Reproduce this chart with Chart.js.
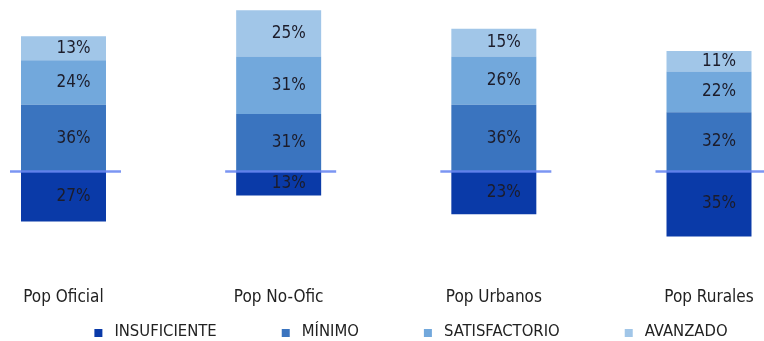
<!DOCTYPE html>
<html>
<head>
<meta charset="utf-8">
<script src="https://cdn.jsdelivr.net/npm/chart.js@4/dist/chart.umd.min.js"></script>
<style>
  html, body { margin: 0; padding: 0; background: #fff; }
  #wrap { width: 764px; height: 341px; }
</style>
</head>
<body>
<div id="wrap"><canvas id="chart"></canvas></div>
<script>
const categories = ['Pop Oficial', 'Pop No-Ofic', 'Pop Urbanos', 'Pop Rurales'];
// insuficiente is drawn below the zero line
const insuficiente = [-27, -13, -23, -35];
const minimo = [36, 31, 36, 32];
const satisfactorio = [24, 31, 26, 22];
const avanzado = [13, 25, 15, 11];

const FONT = "'DejaVu Sans Condensed', 'DejaVu Sans', sans-serif";

// labels inside each segment
const segmentLabels = {
  id: 'segmentLabels',
  afterDatasetsDraw(chart) {
    const ctx = chart.ctx;
    ctx.save();
    ctx.font = '17px ' + FONT;
    ctx.fillStyle = '#1c1c2a';
    ctx.textAlign = 'center';
    ctx.textBaseline = 'middle';
    chart.data.datasets.forEach(function(ds, i) {
      const meta = chart.getDatasetMeta(i);
      meta.data.forEach(function(bar, j) {
        const v = Math.abs(ds.data[j]);
        ctx.fillText(v + '%', bar.x + 10, (bar.y + bar.base) / 2);
      });
    });
    ctx.restore();
  }
};

// short zero line across each bar
const zeroLines = {
  id: 'zeroLines',
  afterDatasetsDraw(chart) {
    const ctx = chart.ctx;
    const y = chart.scales.y.getPixelForValue(0);
    const meta = chart.getDatasetMeta(0);
    ctx.save();
    ctx.strokeStyle = 'rgba(100,130,240,0.85)';
    ctx.lineWidth = 2.5;
    meta.data.forEach(function(bar) {
      ctx.beginPath();
      ctx.moveTo(bar.x - bar.width / 2 - 11, y);
      ctx.lineTo(bar.x + bar.width / 2 + 15, y);
      ctx.stroke();
    });
    ctx.restore();
  }
};

// legend row at the bottom, built from the datasets
const bottomLegend = {
  id: 'bottomLegend',
  afterDraw(chart) {
    const ctx = chart.ctx;
    const box = 8, boxGap = 12, itemGap = 65;
    const centerX = 411, y = 332;
    ctx.save();
    ctx.font = '16.5px ' + FONT;
    ctx.textBaseline = 'middle';
    ctx.textAlign = 'left';
    const items = chart.data.datasets.map(function(ds) {
      return { text: ds.label, color: ds.backgroundColor, w: box + boxGap + ctx.measureText(ds.label).width };
    });
    let total = items.reduce(function(s, it) { return s + it.w; }, 0) + itemGap * (items.length - 1);
    let x = centerX - total / 2;
    items.forEach(function(it) {
      ctx.fillStyle = it.color;
      ctx.fillRect(x, y - box / 2 + 1, box, box);
      ctx.fillStyle = '#222';
      ctx.fillText(it.text, x + box + boxGap, y);
      x += it.w + itemGap;
    });
    ctx.restore();
  }
};

new Chart(document.getElementById('chart'), {
  type: 'bar',
  data: {
    labels: categories,
    datasets: [{
      label: 'INSUFICIENTE',
      backgroundColor: '#0a3aa8',
      data: insuficiente,
    },
    {
      label: 'MÍNIMO',
      backgroundColor: '#3a74bf',
      data: minimo,
    },
    {
      label: 'SATISFACTORIO',
      backgroundColor: '#72a8dc',
      data: satisfactorio,
    },
    {
      label: 'AVANZADO',
      backgroundColor: '#a1c6e8',
      data: avanzado,
    }]
  },
  options: {
    responsive: true,
    maintainAspectRatio: false,
    animation: false,
    layout: { padding: { left: 63.5, right: 55, top: 0, bottom: 30 } },
    datasets: {
      bar: { clip: false, categoryPercentage: 0.79, barPercentage: 0.5, borderWidth: 0 }
    },
    scales: {
      x: {
        stacked: true,
        offset: false,
        grid: { display: false, drawTicks: false },
        border: { display: false },
        ticks: { color: '#222', font: { family: FONT, size: 17 }, padding: 3, maxRotation: 0, autoSkip: false }
      },
      y: {
        stacked: true,
        display: false,
        min: -61,
        max: 92.5
      }
    },
    plugins: {
      legend: { display: false },
      tooltip: { enabled: false }
    }
  },
  plugins: [segmentLabels, zeroLines, bottomLegend]
});
</script>
</body>
</html>
